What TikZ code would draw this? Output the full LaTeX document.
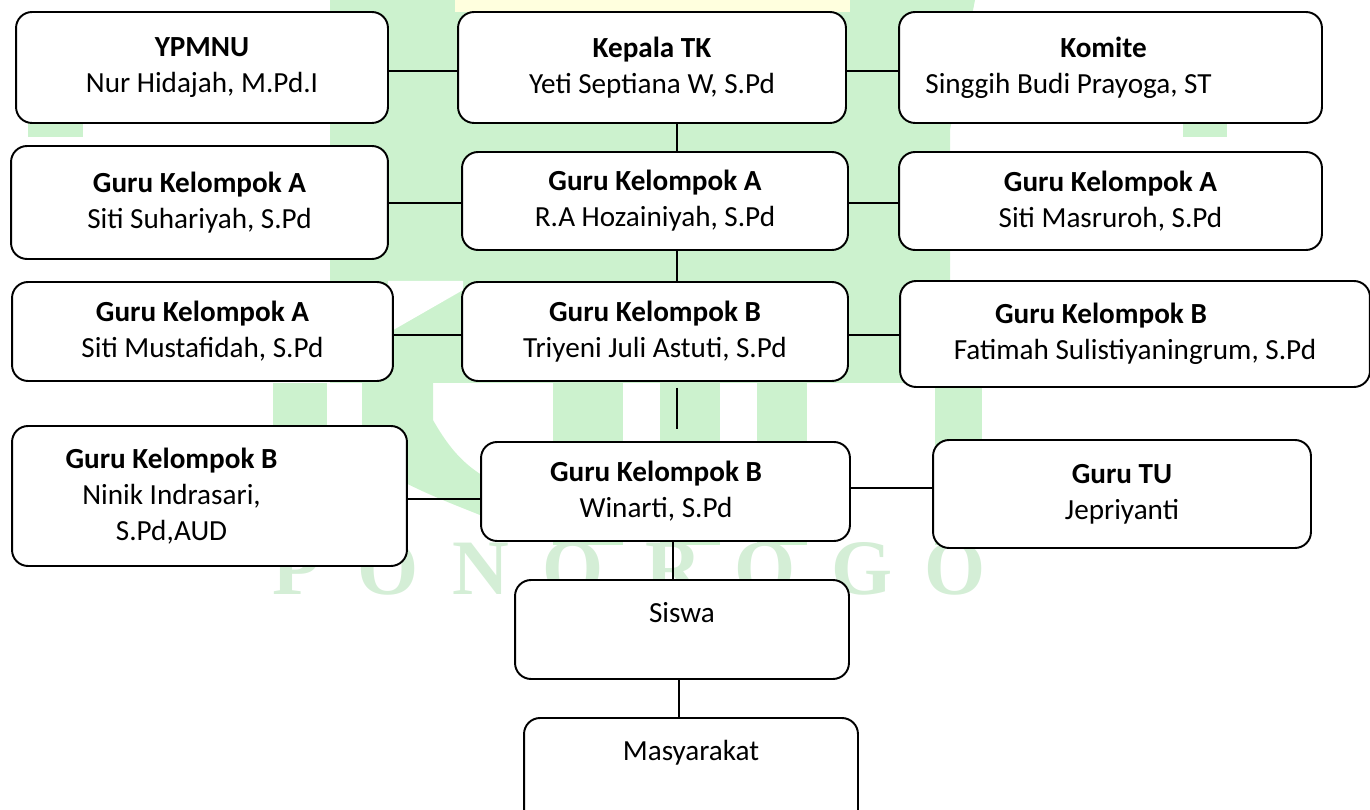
\documentclass[tikz,border=0pt]{standalone}
\usepackage{fontspec}
\setmainfont{Carlito}
\newfontfamily\wmfont{Liberation Serif}
\usetikzlibrary{positioning,calc}
\definecolor{wmgreen}{RGB}{204,242,206}
\definecolor{wmtext}{RGB}{212,238,214}
\definecolor{wmyellow}{RGB}{255,255,222}

% a line of text set left of the centre by half of #1
\newcommand{\offleft}[2]{\makebox[\dimexpr\width+#1\relax][l]{#2}}

\tikzset{
  orgbox/.style={draw, line width=1.1pt, rounded corners=0.32cm, fill=white,
    align=center, inner sep=0pt, font=\fontsize{16.6}{20.5}\selectfont},
  lowbox/.style={orgbox, text height=0.38cm, text depth=0.64cm},
  link/.style={line width=0.85pt},
  wmletter/.style={text=wmtext, anchor=base, inner sep=0pt,
    font=\wmfont\bfseries\fontsize{44.7}{50}\selectfont},
}

\begin{document}
\begin{tikzpicture}[x=0.02cm, y=-0.02cm]
  \useasboundingbox (0,0) rectangle (1370,810);

  % watermark behind the chart
  \fill[wmgreen] (330,0) -- (975,0) -- (950,130) -- (950,383) -- (330,383) -- cycle;
  \fill[white] (388,281) -- (463,281) -- (463,290) -- (388,333) -- cycle;
  \fill[wmyellow] (455,0) rectangle (850,12);
  \fill[wmgreen] (28,123) rectangle (83,137);
  \fill[wmgreen] (1183,123) rectangle (1227,137);
  \fill[wmgreen] (273,383) rectangle (327,566);
  \fill[wmgreen] (362,383) -- (433,383) -- (433,420)
    .. controls (450,450) and (465,465) .. (485,477) -- (485,517)
    .. controls (430,495) and (362,470) .. (362,440) -- cycle;
  \foreach \xa/\xb in {553/623, 660/720, 757/807, 935/982}
    \fill[wmgreen] (\xa,383) rectangle (\xb,545);
  \foreach \ch/\xx in {P/296, O/388, N/481, O/573, R/674, O/765, G/862, O/955}
    \node[wmletter] (wm\xx) at (\xx,595) {\ch};

  % top row
  \node[orgbox, minimum width=7.44cm, minimum height=2.22cm] (ypmnu) at (202,67.5)
    {\textbf{YPMNU}\\Nur Hidajah, M.Pd.I};
  \node[orgbox, minimum width=7.76cm, minimum height=2.22cm] (kepala) at (652,67.5)
    {\textbf{Kepala TK}\\Yeti Septiana W, S.Pd};
  \node[orgbox, minimum width=8.46cm, minimum height=2.22cm] (komite) at (1110.5,67.5)
    {\offleft{0.28cm}{\textbf{Komite}}\\\offleft{1.68cm}{Singgih Budi Prayoga, ST}};

  % teachers
  \node[orgbox, minimum width=7.54cm, minimum height=2.26cm] (gurua1) at (199.5,202.5)
    {\textbf{Guru Kelompok A}\\Siti Suhariyah, S.Pd};
  \node[orgbox, minimum width=7.72cm, minimum height=1.96cm] (gurua2) at (655,201)
    {\textbf{Guru Kelompok A}\\R.A Hozainiyah, S.Pd};
  \node[orgbox, minimum width=8.46cm, minimum height=1.96cm] (gurua3) at (1110.5,201)
    {\textbf{Guru Kelompok A}\\Siti Masruroh, S.Pd};
  \node[orgbox, minimum width=7.62cm, minimum height=1.98cm] (gurua4) at (202.5,331.5)
    {\textbf{Guru Kelompok A}\\Siti Mustafidah, S.Pd};
  \node[orgbox, minimum width=7.72cm, minimum height=1.98cm] (gurub1) at (655,331.5)
    {\textbf{Guru Kelompok B}\\Triyeni Juli Astuti, S.Pd};
  \node[orgbox, minimum width=9.40cm, minimum height=2.12cm] (gurub2) at (1135,334)
    {\offleft{1.36cm}{\textbf{Guru Kelompok B}}\\Fatimah Sulistiyaningrum, S.Pd};
  \node[orgbox, minimum width=7.90cm, minimum height=2.80cm] (gurub3) at (209.5,496)
    {\offleft{1.52cm}{\textbf{Guru Kelompok B}}\\\offleft{1.52cm}{Ninik Indrasari,}\\\offleft{1.52cm}{S.Pd,AUD}};
  \node[orgbox, minimum width=7.38cm, minimum height=1.98cm] (gurub4) at (665.5,491.5)
    {\offleft{0.38cm}{\textbf{Guru Kelompok B}}\\\offleft{0.38cm}{Winarti, S.Pd}};
  \node[orgbox, minimum width=7.56cm, minimum height=2.16cm] (gurutu) at (1122,494)
    {\textbf{Guru TU}\\Jepriyanti};

  % bottom
  \node[lowbox, minimum width=6.68cm, minimum height=1.98cm] (siswa) at (682,629.5) {Siswa};
  \node[lowbox, text depth=0.94cm, minimum width=6.68cm, minimum height=2.24cm] (masyarakat) at (691,774) {Masyarakat};

  % connectors
  \coordinate (r1) at (0,71);
  \coordinate (r2) at (0,203);
  \coordinate (r3) at (0,335);
  \coordinate (r4a) at (0,499);
  \coordinate (r4b) at (0,488);
  \coordinate (spine) at (677,0);
  \coordinate (spineb) at (673,0);
  \coordinate (spinec) at (679,0);

  \draw[link] (ypmnu.east |- r1) -- (kepala.west |- r1);
  \draw[link] (kepala.east |- r1) -- (komite.west |- r1);
  \draw[link] (gurua1.east |- r2) -- (gurua2.west |- r2);
  \draw[link] (gurua2.east |- r2) -- (gurua3.west |- r2);
  \draw[link] (gurua4.east |- r3) -- (gurub1.west |- r3);
  \draw[link] (gurub1.east |- r3) -- (gurub2.west |- r3);
  \draw[link] (gurub3.east |- r4a) -- (gurub4.west |- r4a);
  \draw[link] (gurub4.east |- r4b) -- (gurutu.west |- r4b);

  \draw[link] (kepala.south -| spine) -- (gurua2.north -| spine);
  \draw[link] (gurua2.south -| spine) -- (gurub1.north -| spine);
  \draw[link, shorten <=0.12cm, shorten >=0.24cm] (gurub1.south -| spine) -- (gurub4.north -| spine);
  \draw[link] (gurub4.south -| spineb) -- (siswa.north -| spineb);
  \draw[link] (siswa.south -| spinec) -- (masyarakat.north -| spinec);
\end{tikzpicture}
\end{document}
